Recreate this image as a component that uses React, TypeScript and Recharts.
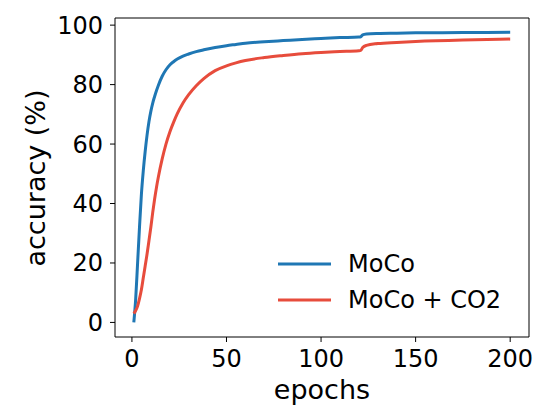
import { LineChart, Line, XAxis, YAxis, ReferenceLine, Legend } from 'recharts';

const epochs = [1, 2, 3, 4, 5, 6, 7, 8, 9, 10, 11, 12, 13, 14, 16, 18, 20, 22, 24, 27, 30, 34, 38, 44, 50, 55, 60, 70, 80, 90, 100, 110, 120, 121, 122, 124, 130, 140, 150, 175, 200];
const moco = [0, 8, 20, 32, 43, 51, 57.5, 63, 67.5, 71, 73.8, 76, 78, 79.8, 82.8, 85, 86.6, 87.7, 88.6, 89.6, 90.3, 91.1, 91.7, 92.5, 93.1, 93.5, 93.9, 94.4, 94.8, 95.2, 95.5, 95.8, 96, 96.1, 96.7, 97, 97.2, 97.3, 97.4, 97.5, 97.6];
const mocoCo2 = [3, 4, 5.5, 8, 11, 15, 19, 23, 27.5, 32, 37, 41.5, 45.5, 49, 55, 60, 64, 67.3, 70.2, 73.8, 76.6, 79.6, 82, 84.7, 86.3, 87.3, 88.1, 89.1, 89.8, 90.4, 90.8, 91.1, 91.4, 91.5, 92.5, 93.2, 93.8, 94.2, 94.5, 95, 95.3];
const xTicks = [0, 50, 100, 150, 200];
const yTicks = [0, 20, 40, 60, 80, 100];

const data = epochs.map((e, i) => ({ epoch: e, moco: moco[i], co2: mocoCo2[i] }));

const FONT = '"DejaVu Sans", sans-serif';
const X_DOMAIN: [number, number] = [-8.95, 209.95];
const Y_DOMAIN: [number, number] = [-4.9, 102.4];

function renderLegend(props: any) {
  const items = props.payload || [];
  return (
    <div style={{ fontFamily: FONT, fontSize: 24, color: '#000' }}>
      {items.map((it: any) => (
        <div key={it.value} style={{ display: 'flex', alignItems: 'center', height: 36 }}>
          <svg width={53} height={6} style={{ marginRight: 17 }}>
            <line x1={0} y1={3} x2={53} y2={3} stroke={it.color} strokeWidth={3} />
          </svg>
          <span>{it.value}</span>
        </div>
      ))}
    </div>
  );
}

export default function App() {
  return (
    <div style={{ position: 'absolute', left: 0, top: 0, width: 533, height: 405, background: '#fff' }}>
      <LineChart width={533} height={405} data={data} margin={{ top: 18, right: 4, bottom: 0, left: 0 }}>
        <XAxis
          dataKey="epoch"
          type="number"
          domain={X_DOMAIN}
          ticks={xTicks}
          height={68}
          tickSize={5}
          tickMargin={8}
          stroke="#000"
          tick={{ fill: '#000', fontSize: 24, fontFamily: FONT }}
          allowDataOverflow
        />
        <YAxis
          type="number"
          domain={Y_DOMAIN}
          ticks={yTicks}
          width={115}
          tickSize={5}
          tickMargin={7}
          stroke="#000"
          tick={{ fill: '#000', fontSize: 24, fontFamily: FONT }}
          allowDataOverflow
        />
        <ReferenceLine y={Y_DOMAIN[1]} stroke="#000" />
        <ReferenceLine x={X_DOMAIN[1]} stroke="#000" />
        <Line dataKey="moco" name="MoCo" stroke="#1f77b4" strokeWidth={3} dot={false} type="monotone" isAnimationActive={false} />
        <Line dataKey="co2" name="MoCo + CO2" stroke="#e74c3c" strokeWidth={3} dot={false} type="monotone" isAnimationActive={false} />
        <Legend
          layout="horizontal"
          verticalAlign="middle"
          align="center"
          content={renderLegend}
          wrapperStyle={{ left: 278, top: 246, width: 240, height: 72 }}
        />
      </LineChart>
      <svg width={533} height={405} style={{ position: 'absolute', left: 0, top: 0, pointerEvents: 'none' }}>
        <text x={322} y={399} textAnchor="middle" fontSize={27} fontFamily={FONT} fill="#000">epochs</text>
        <text x={45} y={178} textAnchor="middle" fontSize={27} fontFamily={FONT} fill="#000" transform="rotate(-90 45 178)">accuracy (%)</text>
      </svg>
    </div>
  );
}
